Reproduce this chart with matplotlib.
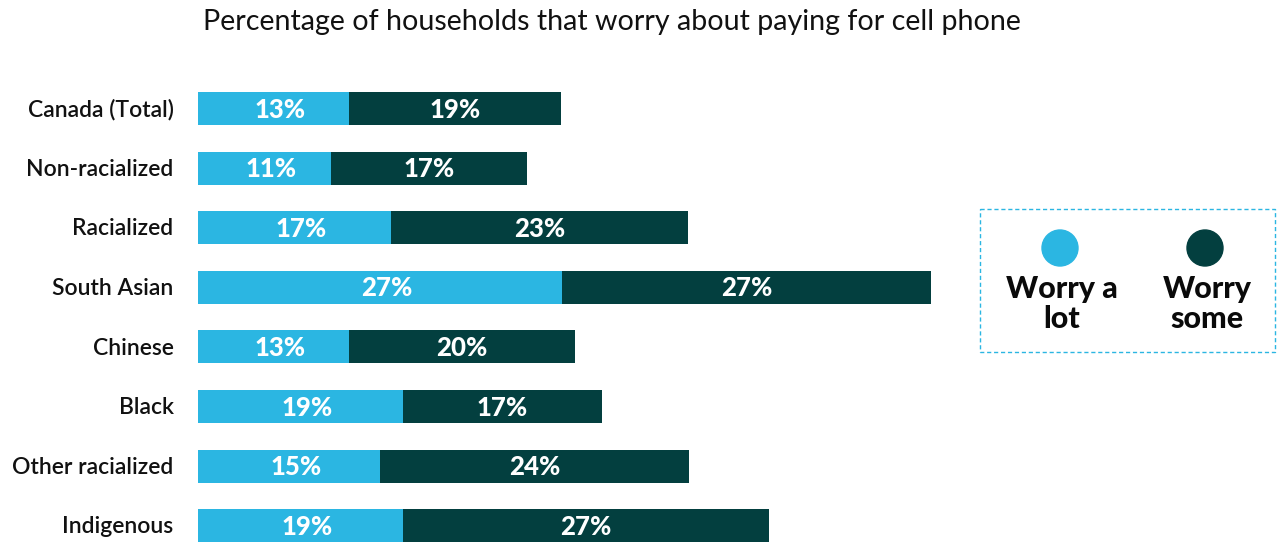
import matplotlib.pyplot as plt
from matplotlib.patches import Rectangle, Circle

# ── data ─────────────────────────────────────────────
groups = ['Canada (Total)', 'Non-racialized', 'Racialized', 'South Asian',
          'Chinese', 'Black', 'Other racialized', 'Indigenous']
# printed labels
lot_lbl = [13, 11, 17, 27, 13, 19, 15, 19]
some_lbl = [19, 17, 23, 27, 20, 17, 24, 27]
# bar lengths as drawn in the picture (not strictly proportional to labels)
lot_len = [11.1, 9.8, 14.2, 26.8, 11.1, 15.1, 13.4, 15.1]
some_len = [15.6, 14.4, 21.8, 27.1, 16.6, 14.6, 22.7, 26.9]

LIGHT = '#2bb6e2'
DARK = '#033f3f'
W, H = 1278, 542

fig = plt.figure(figsize=(W / 100, H / 100), dpi=100)

# overlay in pixel units for title and legend
ov = fig.add_axes([0, 0, 1, 1])
ov.set_xlim(0, W)
ov.set_ylim(H, 0)
ov.axis('off')

ax = fig.add_axes([198 / W, 0, (W - 198) / W, 1])
ax.set_xlim(0, (W - 198) / 13.6)
ax.set_ylim((H - 108.5) / 59.6, -108.5 / 59.6)
ax.axis('off')

y = list(range(len(groups)))
ax.barh(y, lot_len, height=0.554, color=LIGHT)
ax.barh(y, some_len, left=lot_len, height=0.554, color=DARK)

for i in y:
    ax.text(lot_len[i] / 2 + 0.5, i + 0.02, f'{lot_lbl[i]}%', ha='center', va='center',
            color='white', fontsize=18.5, fontweight='black', family='Lato')
    ax.text(lot_len[i] + some_len[i] / 2, i + 0.02, f'{some_lbl[i]}%', ha='center', va='center',
            color='white', fontsize=18.5, fontweight='black', family='Lato')
    ax.text(-1.8, i + 0.02, groups[i], ha='right', va='center', fontsize=16.5,
            family='Lato', fontweight='semibold', color='#111111')

ov.text(612, 22, 'Percentage of households that worry about paying for cell phone',
        ha='center', va='center', fontsize=20.6, family='Lato', color='#111111')

# ── legend box ───────────────────────────────────────
ov.add_patch(Rectangle((980, 209), 295, 143, fill=False, edgecolor=LIGHT,
                       linestyle=(0, (3, 2)), linewidth=1))
for cx, col, txt in [(1060, LIGHT, 'Worry a\nlot'), (1205, DARK, 'Worry\nsome')]:
    ov.add_patch(Circle((cx, 248), 18, color=col))
    ov.text(cx + 2, 304, txt, ha='center', va='center', fontsize=22,
            fontweight='black', family='Lato', linespacing=1.12, color='#0a0a0a')

fig.savefig('out.png', dpi=100)
